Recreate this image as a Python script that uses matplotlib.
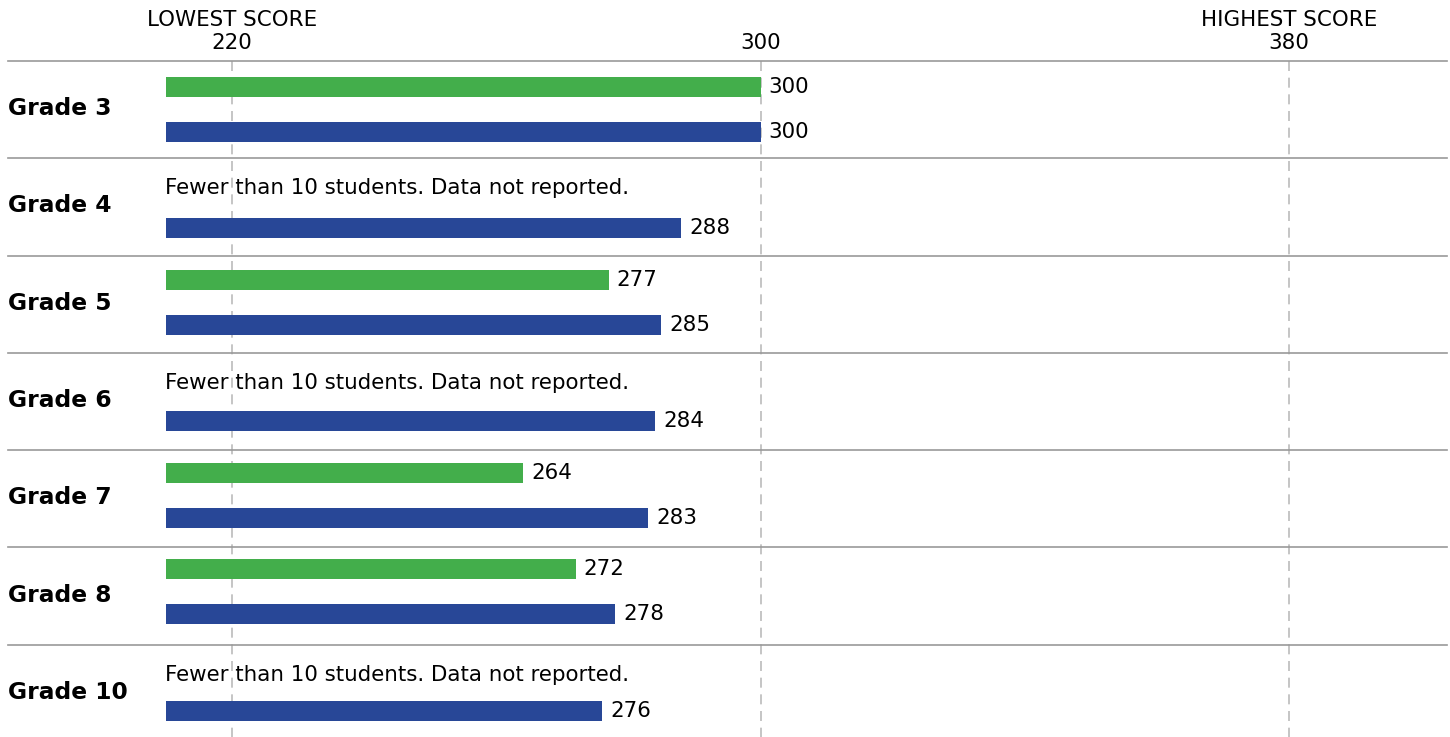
import numpy as np
import matplotlib.pyplot as plt

# ======================================================
# 데이터
# ======================================================
grades = ["Grade 3", "Grade 4", "Grade 5", "Grade 6", "Grade 7", "Grade 8", "Grade 10"]
green_scores = [300, None, 277, None, 264, 272, None]
blue_scores = [300, 288, 285, 284, 283, 278, 276]
tick_values = [220, 300, 380]
tick_titles = ["LOWEST SCORE", "", "HIGHEST SCORE"]
missing_note = "Fewer than 10 students. Data not reported."

BAR_START = 210
GREEN = "#43ae4b"
BLUE = "#284797"
FS = 15.4
BAR_PITCH = 0.9918  # 막대 간격은 구분선 간격보다 살짝 좁음

plt.rcParams["font.family"] = ["Verdana", "DejaVu Sans"]

# ======================================================
# 그림
# ======================================================
fig = plt.figure(figsize=(14.5, 7.37), dpi=100)
ax = fig.add_axes([0, 0, 1, 1])
ax.set_xlim(184.88, 404.37)
ax.set_ylim(6.948, -0.627)
ax.axis("off")

# 세로 점선
for v in tick_values:
    ax.plot([v, v], [0, 7.2], color="#bbbbbb", lw=1.2, ls=(0, (6, 4)), zorder=1)

# 가로 구분선
for i in range(len(grades)):
    ax.plot([186.1, 403.9], [i, i], color="#999999", lw=1.2, zorder=1)

# 막대
h = 0.205
for i, (g, gs, bs) in enumerate(zip(grades, green_scores, blue_scores)):
    ax.text(186.1, i + 0.49, g, fontsize=16.8, fontweight="bold", va="center", ha="left")
    gy = 0.264 + BAR_PITCH * i
    by = 0.726 + BAR_PITCH * i
    if gs is not None:
        ax.barh(gy, gs - BAR_START, left=BAR_START, height=h, color=GREEN, zorder=2)
        ax.text(gs + 1.25, gy, str(gs), fontsize=FS, va="center", ha="left")
    else:
        ax.text(BAR_START - 0.2, i + 0.31, missing_note, fontsize=FS, va="center", ha="left")
    ax.barh(by, bs - BAR_START, left=BAR_START, height=h, color=BLUE, zorder=2)
    ax.text(bs + 1.25, by, str(bs), fontsize=FS, va="center", ha="left")

# 상단 눈금 라벨
for v, t in zip(tick_values, tick_titles):
    ax.text(v, -0.19, str(v), fontsize=FS, ha="center", va="center")
    if t:
        ax.text(v, -0.425, t, fontsize=FS, ha="center", va="center")

fig.savefig("out.png", dpi=100)
